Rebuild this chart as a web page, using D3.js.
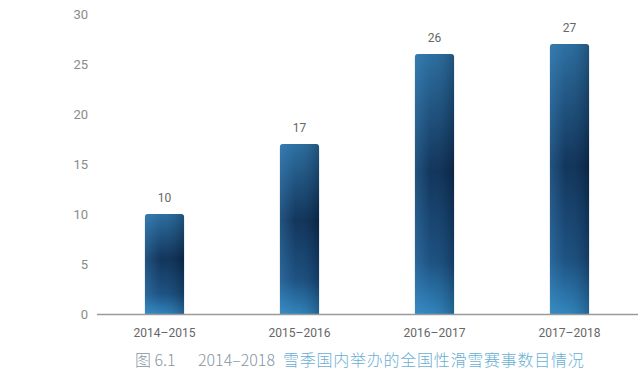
<!DOCTYPE html>
<html>
<head>
<meta charset="utf-8">
<script src="https://cdn.jsdelivr.net/npm/d3@7"></script>
<style>
  body { margin: 0; background: #fff; }
</style>
</head>
<body>
<script>
const seasons = ["2014–2015", "2015–2016", "2016–2017", "2017–2018"];
const counts = [10, 17, 26, 27];
const yTicks = [0, 5, 10, 15, 20, 25, 30];
const figLabel = "图 6.1";
const captionYears = "2014–2018";
const captionRest = "雪季国内举办的全国性滑雪赛事数目情况";

const width = 640, height = 377;
const margin = { top: 14, right: 3, bottom: 63, left: 97 };

const svg = d3.select("body").append("svg")
  .attr("width", width)
  .attr("height", height);

const defs = svg.append("defs");
const grad = defs.append("linearGradient")
  .attr("id", "barGrad")
  .attr("x1", 0).attr("y1", 0).attr("x2", 0).attr("y2", 1);
grad.append("stop").attr("offset", "0%").attr("stop-color", "#2b6c9e");
grad.append("stop").attr("offset", "45%").attr("stop-color", "#0e2d52");
grad.append("stop").attr("offset", "80%").attr("stop-color", "#1a4c7c");
grad.append("stop").attr("offset", "100%").attr("stop-color", "#2f83bb");

// side shading, lighter left edge and darker right edge
const side = defs.append("linearGradient")
  .attr("id", "sideGrad")
  .attr("x1", 0).attr("y1", 0).attr("x2", 1).attr("y2", 0);
side.append("stop").attr("offset", "0%").attr("stop-color", "#4a9ad0").attr("stop-opacity", 0.35);
side.append("stop").attr("offset", "40%").attr("stop-color", "#4a9ad0").attr("stop-opacity", 0.08);
side.append("stop").attr("offset", "100%").attr("stop-color", "#000814").attr("stop-opacity", 0.25);

const x = d3.scaleBand()
  .domain(seasons)
  .range([margin.left, width - margin.right])
  .paddingInner(0.71)
  .paddingOuter(0.355);

const y = d3.scaleLinear()
  .domain([0, 30])
  .range([height - margin.bottom, margin.top]);

// y axis labels only
const yAxis = svg.append("g")
  .attr("transform", `translate(${margin.left - 9},0)`)
  .call(d3.axisLeft(y).tickValues(yTicks).tickSize(0).tickPadding(0));
yAxis.select(".domain").remove();
yAxis.selectAll("text")
  .attr("font-family", "Roboto, 'Noto Sans', sans-serif")
  .attr("font-size", "13px")
  .attr("fill", "#8a8a8a");

function topRounded(x0, y0, w, h, r) {
  return `M${x0},${y0 + h} V${y0 + r} Q${x0},${y0} ${x0 + r},${y0} H${x0 + w - r} Q${x0 + w},${y0} ${x0 + w},${y0 + r} V${y0 + h} Z`;
}

const bars = svg.append("g");
seasons.forEach((s, i) => {
  const bx = x(s), by = y(counts[i]), bw = x.bandwidth(), bh = y(0) - y(counts[i]);
  bars.append("path")
    .attr("d", topRounded(bx, by, bw, bh, 3))
    .attr("fill", "url(#barGrad)");
  bars.append("path")
    .attr("d", topRounded(bx, by, bw, bh, 3))
    .attr("fill", "url(#sideGrad)");
  bars.append("text")
    .attr("x", bx + bw / 2)
    .attr("y", by - 12)
    .attr("text-anchor", "middle")
    .attr("font-family", "Roboto, 'Noto Sans', sans-serif")
    .attr("font-size", "12px")
    .attr("fill", "#666")
    .text(counts[i]);
});

// x axis baseline + labels
svg.append("line")
  .attr("x1", margin.left).attr("x2", width - 2)
  .attr("y1", y(0) + 0.5).attr("y2", y(0) + 0.5)
  .attr("stroke", "#9a9a9a")
  .attr("stroke-width", 1.5);

const xAxis = svg.append("g")
  .attr("transform", `translate(0,${y(0)})`)
  .call(d3.axisBottom(x).tickSize(0).tickPadding(14));
xAxis.select(".domain").remove();
xAxis.selectAll("text")
  .attr("font-family", "Roboto, 'Noto Sans', sans-serif")
  .attr("font-size", "12px")
  .attr("fill", "#666");

// caption
const cap = svg.append("g")
  .attr("font-family", "'Noto Sans CJK SC', sans-serif")
  .attr("font-size", "16px")
  .attr("font-weight", 300);
cap.append("text").attr("x", 135).attr("y", 366)
  .attr("fill", "#8696a4").text(figLabel);
cap.append("text").attr("x", 198).attr("y", 366)
  .attr("fill", "#8696a4").text(captionYears);
cap.append("text").attr("x", 283).attr("y", 366)
  .attr("fill", "#6aafd3")
  .attr("letter-spacing", "0.75px")
  .text(captionRest);
</script>
</body>
</html>
